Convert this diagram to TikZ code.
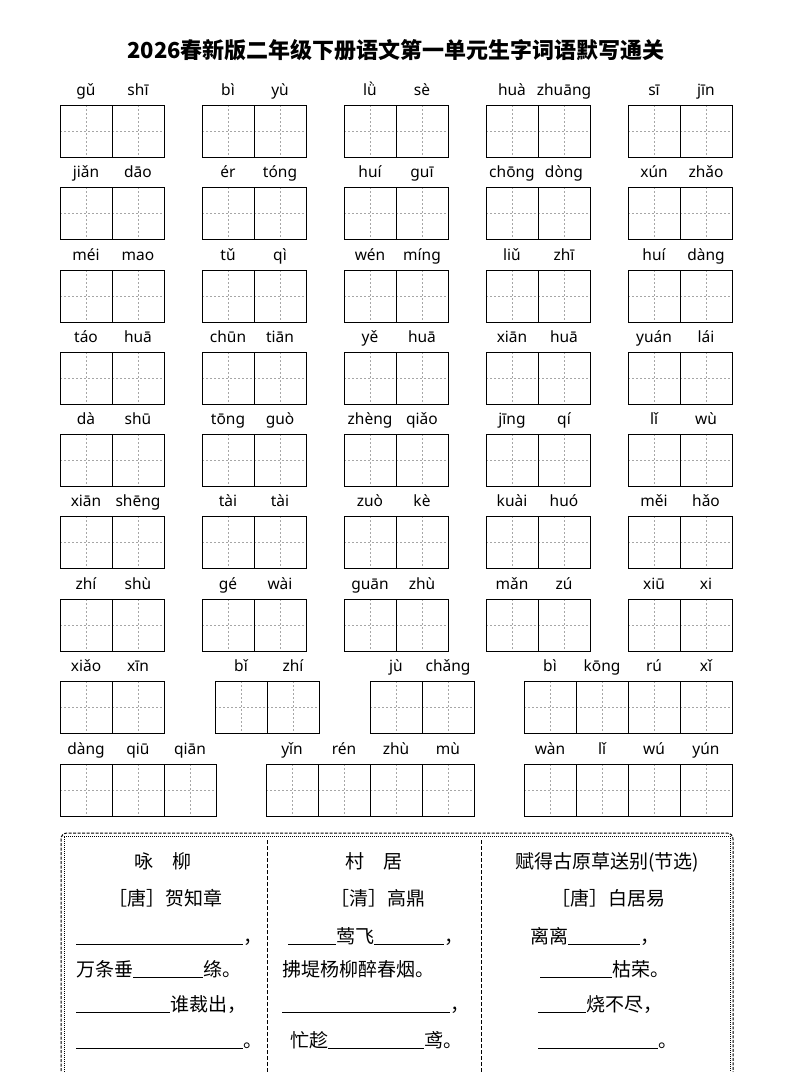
\documentclass[tikz,border=0pt]{standalone}
\usepackage{fontspec}
\setmainfont{Noto Sans}
\newfontfamily\cjk{Noto Sans CJK SC}
\tikzset{
  box/.style={draw=black,line width=0.9pt},
  mid/.style={draw=gray!70,line width=0.4pt,dash pattern=on 2pt off 2pt},
  py/.style={font=\fontsize{15.5}{15.5}\selectfont,inner sep=0pt,anchor=base},
  poem/.style={font=\cjk\fontsize{19}{19}\selectfont,inner sep=0pt,anchor=base west},
  poemc/.style={font=\cjk\fontsize{19}{19}\selectfont,inner sep=0pt,anchor=base}
}
\newcommand{\blank}[1]{\rule[-2pt]{#1pt}{0.9pt}}
\newcommand{\grp}[3]{%
  \foreach \p [count=\i from 0] in {#3} {
    \pgfmathsetmacro{\bx}{#1+52*\i}
    \draw[mid] (\bx+26,#2) -- (\bx+26,#2+52);
    \draw[mid] (\bx,#2+26) -- (\bx+52,#2+26);
    \draw[box] (\bx,#2) rectangle (\bx+52,#2+52);
    \node[py] at (\bx+26,#2-10) {\p};
  }}
\begin{document}
\begin{tikzpicture}[x=1pt,y=-1pt]
\useasboundingbox (0,0) rectangle (793,1072);
\node[font=\cjk\bfseries\fontsize{22}{22}\selectfont] (title) at (396,50) {2026春新版二年级下册语文第一单元生字词语默写通关};
% rows 1-7
\grp{60}{105}{gǔ,shī}\grp{202}{105}{bì,yù}\grp{344}{105}{lǜ,sè}\grp{486}{105}{huà,zhuāng}\grp{628}{105}{sī,jīn}
\grp{60}{187}{jiǎn,dāo}\grp{202}{187}{ér,tóng}\grp{344}{187}{huí,guī}\grp{486}{187}{chōng,dòng}\grp{628}{187}{xún,zhǎo}
\grp{60}{270}{méi,mao}\grp{202}{270}{tǔ,qì}\grp{344}{270}{wén,míng}\grp{486}{270}{liǔ,zhī}\grp{628}{270}{huí,dàng}
\grp{60}{352}{táo,huā}\grp{202}{352}{chūn,tiān}\grp{344}{352}{yě,huā}\grp{486}{352}{xiān,huā}\grp{628}{352}{yuán,lái}
\grp{60}{434}{dà,shū}\grp{202}{434}{tōng,guò}\grp{344}{434}{zhèng,qiǎo}\grp{486}{434}{jīng,qí}\grp{628}{434}{lǐ,wù}
\grp{60}{516}{xiān,shēng}\grp{202}{516}{tài,tài}\grp{344}{516}{zuò,kè}\grp{486}{516}{kuài,huó}\grp{628}{516}{měi,hǎo}
\grp{60}{599}{zhí,shù}\grp{202}{599}{gé,wài}\grp{344}{599}{guān,zhù}\grp{486}{599}{mǎn,zú}\grp{628}{599}{xiū,xi}
\grp{60}{681}{xiǎo,xīn}\grp{215}{681}{bǐ,zhí}\grp{370}{681}{jù,chǎng}\grp{524}{681}{bì,kōng,rú,xǐ}
\grp{60}{764}{dàng,qiū,qiān}\grp{266}{764}{yǐn,rén,zhù,mù}\grp{524}{764}{wàn,lǐ,wú,yún}
% poem box
\draw[line width=1pt,dash pattern=on 3pt off 1.5pt,rounded corners=6pt] (61,1080) -- (61,833) -- (733,833) -- (733,1080);
\draw[line width=0.6pt,dash pattern=on 1pt off 1pt] (64,1080) -- (64,836) -- (730,836) -- (730,1080);
\draw[line width=0.8pt,dash pattern=on 4pt off 2pt] (267,840) -- (267,1072);
\draw[line width=0.8pt,dash pattern=on 4pt off 2pt] (481,840) -- (481,1072);
% col1
\node[poemc] (t1) at (163,868) {咏\quad 柳};
\node[poemc] (a1) at (165,905) {［唐］贺知章};
\node[poem] (l11) at (76,943) {\blank{167}，};
\node[poem] (l12) at (76,976) {万条垂\blank{70}绦。};
\node[poem] (l13) at (76,1011) {\blank{94}谁裁出，};
\node[poem] (l14) at (76,1047) {\blank{167}。};
% col2
\node[poemc] (t2) at (374,868) {村\quad 居};
\node[poemc] (a2) at (378,905) {［清］高鼎};
\node[poem] (l21) at (288,943) {\blank{48}莺飞\blank{70}，};
\node[poem] (l22) at (282,976) {拂堤杨柳醉春烟。};
\node[poem] (l23) at (282,1011) {\blank{168}，};
\node[poem] (l24) at (290,1047) {忙趁\blank{96}鸢。};
% col3
\node[poemc] (t3) at (607,868) {赋得古原草送别(节选)};
\node[poemc] (a3) at (608,905) {［唐］白居易};
\node[poem] (l31) at (530,943) {离离\blank{72}，};
\node[poem] (l32) at (540,976) {\blank{72}枯荣。};
\node[poem] (l33) at (538,1011) {\blank{48}烧不尽，};
\node[poem] (l34) at (538,1047) {\blank{120}。};
\end{tikzpicture}
\end{document}
